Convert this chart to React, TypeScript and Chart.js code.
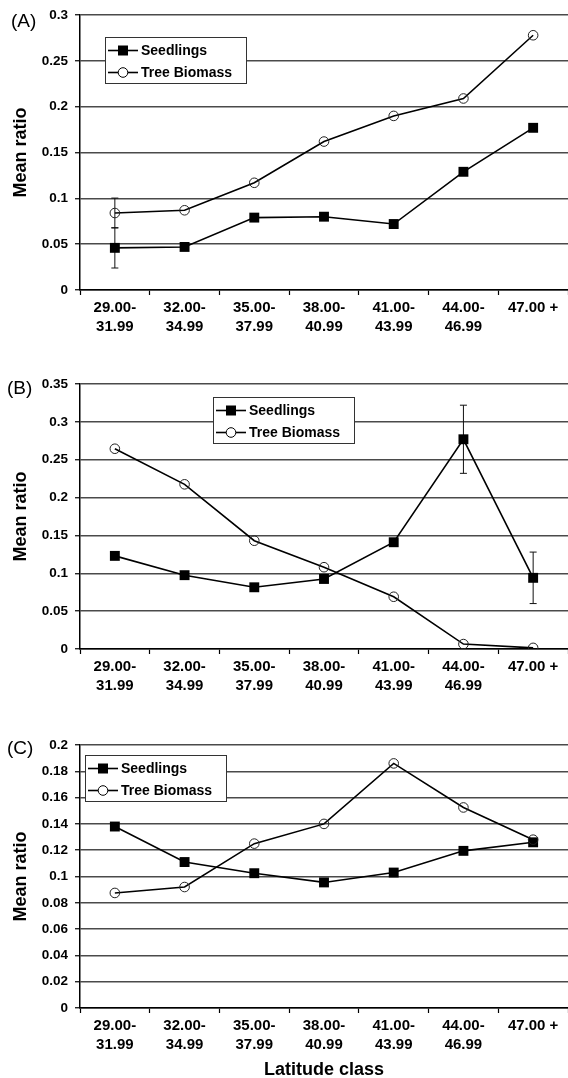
import React, { useEffect, useRef } from "react";
import { Chart, registerables } from "chart.js";
Chart.register(...registerables);

const FONT = "'Liberation Sans', Arial, Helvetica, sans-serif";

const categories: (string | string[])[] = [
  ["29.00-", "31.99"],
  ["32.00-", "34.99"],
  ["35.00-", "37.99"],
  ["38.00-", "40.99"],
  ["41.00-", "43.99"],
  ["44.00-", "46.99"],
  "47.00 +",
];

const seriesNames = ["Seedlings", "Tree Biomass"];

// Panel A
const seedlingsA = [0.046, 0.047, 0.079, 0.08, 0.072, 0.129, 0.177];
const treeA = [0.084, 0.087, 0.117, 0.162, 0.19, 0.209, 0.278];
const seedlingsAErr = [0.022, null, null, null, null, null, null];
const treeAErr = [0.0163, null, null, null, null, null, null];

// Panel B
const seedlingsB = [0.123, 0.0975, 0.0815, 0.0925, 0.141, 0.277, 0.094];
const treeB = [0.2645, 0.2175, 0.143, 0.108, 0.069, 0.0065, 0.0015];
const seedlingsBErr = [null, null, null, null, null, 0.045, 0.034];
const treeBErr = [null, null, null, null, null, null, null];

// Panel C
const seedlingsC = [0.138, 0.111, 0.1025, 0.0955, 0.103, 0.1195, 0.126];
const treeC = [0.0875, 0.092, 0.125, 0.14, 0.186, 0.1525, 0.128];
const seedlingsCErr = [null, null, null, null, null, null, null];
const treeCErr = [null, null, null, null, null, null, null];

const yAxisTitle = "Mean ratio";
const xAxisTitle = "Latitude class";

const errorBarPlugin = {
  id: "errorBars",
  beforeDatasetsDraw(chart: any) {
    const ctx = chart.ctx;
    const y = chart.scales.y;
    ctx.save();
    ctx.strokeStyle = "#111";
    ctx.lineWidth = 1;
    chart.data.datasets.forEach((ds: any, di: number) => {
      const errs = ds.errors as (number | null)[] | undefined;
      if (!errs) return;
      const meta = chart.getDatasetMeta(di);
      errs.forEach((e, i) => {
        if (e == null) return;
        const v = ds.data[i];
        const px = meta.data[i].x;
        const top = y.getPixelForValue(v + e);
        const bot = y.getPixelForValue(v - e);
        ctx.beginPath();
        ctx.moveTo(px, top);
        ctx.lineTo(px, bot);
        ctx.moveTo(px - 3.5, top);
        ctx.lineTo(px + 3.5, top);
        ctx.moveTo(px - 3.5, bot);
        ctx.lineTo(px + 3.5, bot);
        ctx.stroke();
      });
    });
    ctx.restore();
  },
};

const boxLegendPlugin = {
  id: "boxLegend",
  afterDatasetsDraw(chart: any, _args: any, opts: any) {
    const ctx = chart.ctx;
    const x = opts.x;
    const y = opts.y;
    const w = 141;
    const h = 46;
    ctx.save();
    ctx.fillStyle = "#fff";
    ctx.fillRect(x, y, w, h);
    ctx.strokeStyle = "#333";
    ctx.lineWidth = 1;
    ctx.strokeRect(x + 0.5, y + 0.5, w, h);
    const rows = [y + 13.5, y + 35.5];
    rows.forEach((ry, i) => {
      ctx.strokeStyle = "#000";
      ctx.lineWidth = 1.6;
      ctx.beginPath();
      ctx.moveTo(x + 3, ry);
      ctx.lineTo(x + 33, ry);
      ctx.stroke();
      if (i === 0) {
        ctx.fillStyle = "#000";
        ctx.fillRect(x + 13, ry - 5, 10, 10);
      } else {
        ctx.fillStyle = "#fff";
        ctx.beginPath();
        ctx.arc(x + 18, ry, 4.8, 0, Math.PI * 2);
        ctx.fill();
        ctx.lineWidth = 1;
        ctx.stroke();
      }
      ctx.fillStyle = "#000";
      ctx.font = `bold 14px ${FONT}`;
      ctx.textBaseline = "middle";
      ctx.textAlign = "left";
      ctx.fillText(seriesNames[i], x + 36, ry + 0.5);
    });
    ctx.restore();
  },
};

const panelLabelPlugin = {
  id: "panelLabel",
  afterDraw(chart: any, _args: any, opts: any) {
    const ctx = chart.ctx;
    ctx.save();
    ctx.fillStyle = "#000";
    ctx.font = `19px ${FONT}`;
    ctx.textBaseline = "middle";
    ctx.textAlign = "left";
    ctx.fillText(opts.text, opts.x, opts.y);
    ctx.restore();
  },
};

type PanelProps = {
  top: number;
  height: number;
  padTop: number;
  xAxisHeight: number;
  yMax: number;
  step: number;
  seedlings: number[];
  tree: number[];
  seedlingsErr: (number | null)[];
  treeErr: (number | null)[];
  legend: { x: number; y: number };
  label: { text: string; x: number; y: number };
  showXTitle: boolean;
};

function Panel(p: PanelProps) {
  const ref = useRef<HTMLCanvasElement>(null);
  useEffect(() => {
    if (!ref.current) return;
    const chart = new Chart(ref.current, {
      type: "line",
      data: {
        labels: categories as any,
        datasets: [
          {
            label: seriesNames[1],
            data: p.tree,
            errors: p.treeErr,
            borderColor: "#000",
            borderWidth: 1.6,
            pointStyle: "circle",
            pointRadius: 4.8,
            pointBorderWidth: 1,
            pointBorderColor: "#222",
            pointBackgroundColor: "rgba(0,0,0,0)",
            tension: 0,
            fill: false,
          } as any,
          {
            label: seriesNames[0],
            data: p.seedlings,
            errors: p.seedlingsErr,
            borderColor: "#000",
            borderWidth: 1.6,
            pointStyle: "rect",
            pointRadius: 7,
            pointBorderWidth: 0,
            pointBackgroundColor: "#000",
            pointBorderColor: "#000",
            tension: 0,
            fill: false,
          } as any,
        ],
      },
      options: {
        responsive: false,
        animation: false,
        layout: { autoPadding: false, padding: { top: p.padTop, left: 0, right: 0, bottom: 0 } },
        plugins: {
          legend: { display: false },
          tooltip: { enabled: false },
          boxLegend: p.legend,
          panelLabel: p.label,
        } as any,
        scales: {
          x: {
            offset: true,
            grid: {
              offset: true,
              drawOnChartArea: false,
              drawTicks: true,
              tickLength: 5,
              tickColor: "#000",
              tickWidth: 1.2,
            },
            border: { display: true, color: "#000", width: 1.5 },
            ticks: {
              color: "#000",
              font: { family: FONT, size: 15, weight: "bold", lineHeight: 1.3 },
              padding: 3,
              maxRotation: 0,
              minRotation: 0,
              autoSkip: false,
            },
            title: {
              display: p.showXTitle,
              text: xAxisTitle,
              color: "#000",
              font: { family: FONT, size: 18, weight: "bold", lineHeight: 0.9 },
              padding: { top: 0, bottom: 0 },
            },
            afterFit(scale: any) {
              scale.height = p.xAxisHeight;
              scale.paddingRight = 0;
              scale.paddingLeft = 0;
            },
          },
          y: {
            min: 0,
            max: p.yMax,
            grid: {
              color: "#4a4a4a",
              lineWidth: 1.5,
              drawTicks: true,
              tickLength: 5,
              tickColor: "#000",
              tickWidth: 1.2,
            },
            border: { display: true, color: "#000", width: 1.5 },
            ticks: {
              stepSize: p.step,
              color: "#000",
              padding: 7,
              font: { family: FONT, size: 13.5, weight: "bold" },
              callback: (v: any) => String(+Number(v).toFixed(3)),
            },
            title: {
              display: true,
              text: yAxisTitle,
              color: "#000",
              font: { family: FONT, size: 18, weight: "bold" },
              padding: { top: 10, bottom: 0 },
            },
            afterFit(scale: any) {
              scale.width = 80;
            },
          },
        },
      } as any,
      plugins: [errorBarPlugin, boxLegendPlugin, panelLabelPlugin],
    });
    return () => chart.destroy();
  }, []);
  return (
    <canvas
      ref={ref}
      width={568}
      height={p.height}
      style={{ position: "absolute", left: 0, top: p.top, width: 568, height: p.height }}
    />
  );
}

export default function App() {
  return (
    <div style={{ position: "absolute", left: 0, top: 0, width: 568, height: 1078, background: "#fff" }}>
      <Panel
        top={0}
        height={345}
        padTop={15}
        xAxisHeight={55}
        yMax={0.3}
        step={0.05}
        seedlings={seedlingsA}
        tree={treeA}
        seedlingsErr={seedlingsAErr}
        treeErr={treeAErr}
        legend={{ x: 105, y: 37 }}
        label={{ text: "(A)", x: 11, y: 21.5 }}
        showXTitle={false}
      />
      <Panel
        top={345}
        height={360}
        padTop={39}
        xAxisHeight={56}
        yMax={0.35}
        step={0.05}
        seedlings={seedlingsB}
        tree={treeB}
        seedlingsErr={seedlingsBErr}
        treeErr={treeBErr}
        legend={{ x: 213, y: 52 }}
        label={{ text: "(B)", x: 7, y: 44 }}
        showXTitle={false}
      />
      <Panel
        top={705}
        height={373}
        padTop={40}
        xAxisHeight={70}
        yMax={0.2}
        step={0.02}
        seedlings={seedlingsC}
        tree={treeC}
        seedlingsErr={seedlingsCErr}
        treeErr={treeCErr}
        legend={{ x: 85, y: 50 }}
        label={{ text: "(C)", x: 7, y: 44 }}
        showXTitle={true}
      />
    </div>
  );
}
